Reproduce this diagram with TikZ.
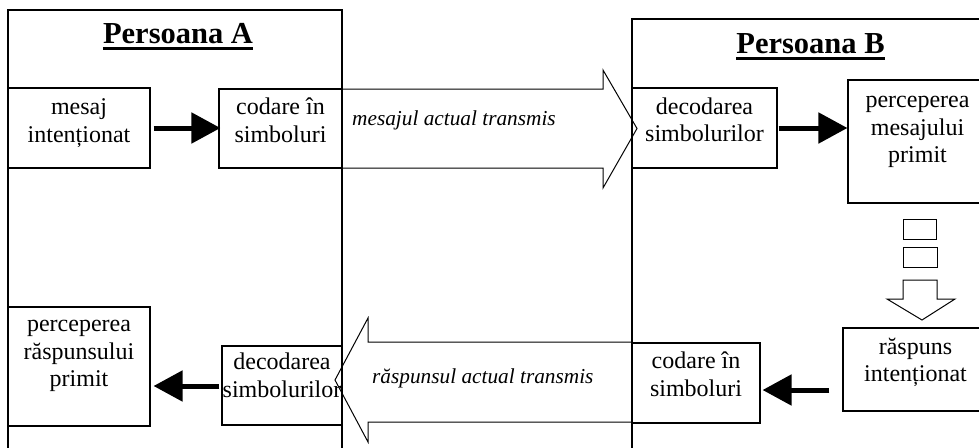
\documentclass[tikz,border=0pt]{standalone}
\usepackage{fontspec}
\setmainfont{Liberation Serif}
\usetikzlibrary{arrows.meta}
% symmetric strut: keeps multi-line blocks centred on their baselines
\newcommand{\zs}{\rule[-17pt]{0pt}{34pt}}
\newcommand{\bodyfont}{\fontsize{24}{27.5}\selectfont\lineskiplimit=-100pt\relax}
\begin{document}
\begin{tikzpicture}[x=1pt,y=-1pt,
  frame/.style={draw, line width=1.1pt, inner sep=0pt},
  body/.style={font=\bodyfont, align=center, inner sep=0pt},
  flow/.style={font=\fontsize{21.3}{25}\selectfont\itshape, inner sep=0pt, anchor=base west},
  title/.style={font=\fontsize{30.5}{34}\selectfont\bfseries, inner sep=0pt, anchor=base},
  bigarrow/.style={draw, line width=1pt, line join=miter},
  tharrow/.style={line width=5pt, -{Triangle[length=29pt,width=30pt]}},
]
\useasboundingbox (0,0) rectangle (979,447);
\clip (0,0) rectangle (979,447);

% the two persons
\draw[frame] (8,10) rectangle (342,470);
\draw[frame] (632,19) rectangle (1000,470);

\node[title] (tA) at (178,43.3) {Persoana A};
\draw[line width=3.3pt] ([yshift=-5pt]tA.base west) -- ([yshift=-5pt]tA.base east);
\node[title] (tB) at (810.5,53.3) {Persoana B};
\draw[line width=3.3pt] ([yshift=-5pt]tB.base west) -- ([yshift=-5pt]tB.base east);

% boxes of person A
\node[frame, minimum width=142, minimum height=80] (mesA) at (79,128) {};
\node[body] (mesAt) at (79,128.5) {\zs mesaj\\\zs intenționat};
\node[frame, minimum width=123, minimum height=79] (codA) at (280.5,128.5) {};
\node[body] (codAt) at (280.5,128.5) {\zs codare în\\\zs simboluri};
\node[frame, minimum width=120, minimum height=79] (decA) at (282,385.5) {};
\node[body] (decAt) at (282,383.7) {\zs decodarea\\\zs simbolurilor};
\node[frame, minimum width=142, minimum height=119] (perA) at (79,366.5) {};
\node[body] (perAt) at (79,359) {\zs perceperea\\\zs răspunsului\\\zs primit};

% boxes of person B
\node[frame, minimum width=145, minimum height=80] (decB) at (704.5,128) {};
\node[body] (decBt) at (704.5,128) {\zs decodarea\\\zs simbolurilor};
\node[frame, minimum width=139, minimum height=123] (perB) at (917.5,141.5) {};
\node[body] (perBt) at (917.5,135) {\zs perceperea\\\zs mesajului\\\zs primit};
\node[frame, minimum width=145, minimum height=83] (raspB) at (915.5,369.5) {};
\node[body] (raspBt) at (915.5,368) {\zs răspuns\\\zs intenționat};
\node[frame, minimum width=128, minimum height=80] (codB) at (696,383) {};
\node[body] (codBt) at (696,382.5) {\zs codare în\\\zs simboluri};

% transmitted message and answer
\draw[bigarrow] (342,89) -- (603,89) -- (603,70) -- (637,128.5) -- (603,188)
  -- (603,168) -- (342,168) -- cycle;
\node[flow] (msg) at (352,125) {mesajul actual transmis};
\draw[bigarrow] (632,342) -- (368,342) -- (368,318) -- (335,380) -- (368,442)
  -- (368,422) -- (632,422) -- cycle;
\node[flow] (ans) at (372,383.3) {răspunsul actual transmis};

% from perception to answer
\draw[line width=1pt] (903,219) rectangle (936,239);
\draw[line width=1pt] (903,247) rectangle (937,267);
\draw[bigarrow] (903,280) -- (937,280) -- (937,299) -- (955,299) -- (922,320)
  -- (887,299) -- (903,299) -- cycle;

% steps inside each person
\draw[tharrow] ([xshift=3pt]mesA.east) -- ([xshift=2pt]codA.west |- mesA.east);
\draw[tharrow] ([xshift=1pt]decB.east) -- (perB.west |- decB.east);
\coordinate (r3) at (raspB.west |- 0,390);
\draw[tharrow] ([xshift=-13pt]r3) -- ([xshift=2pt]codB.east |- r3);
\coordinate (r4) at (decA.west |- 0,386);
\draw[tharrow] ([xshift=-2pt]r4) -- ([xshift=3pt]perA.east |- r4);
\end{tikzpicture}
\end{document}
